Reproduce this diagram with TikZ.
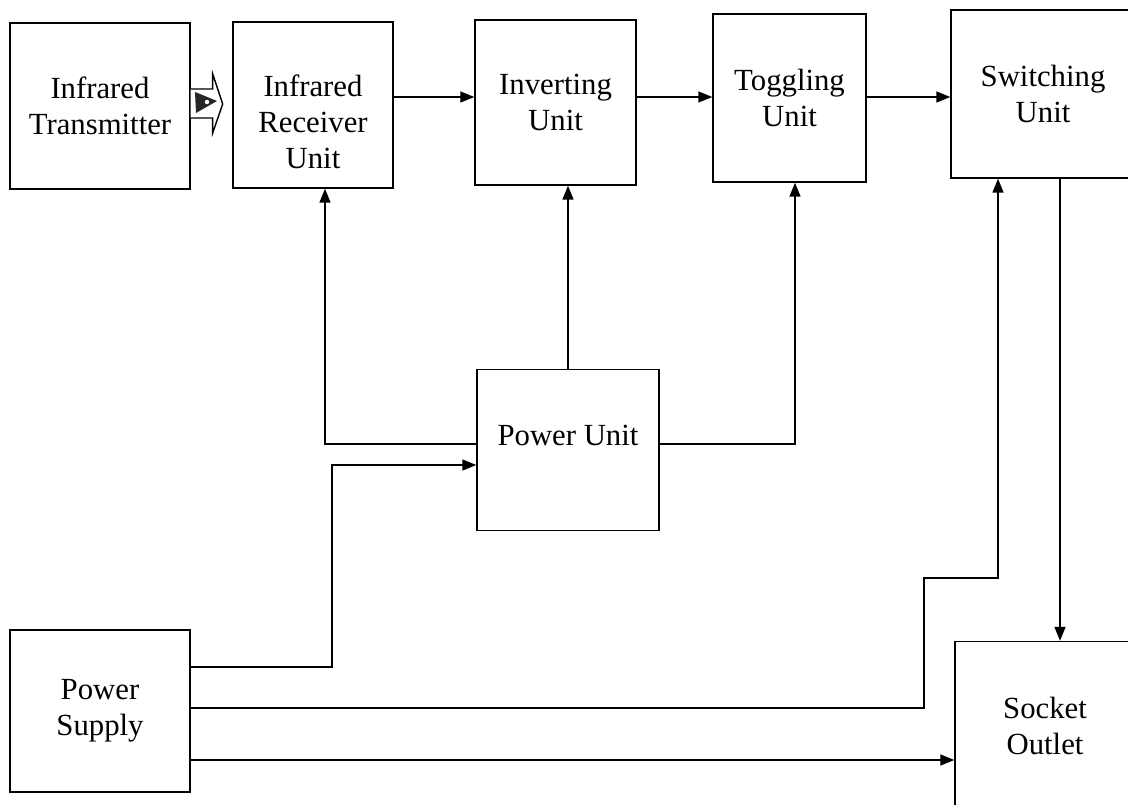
\documentclass[tikz,border=0pt]{standalone}
\usepackage{fontspec}
\setmainfont{Liberation Serif}
\usetikzlibrary{arrows.meta}

\begin{document}
\begin{tikzpicture}[x=0.02cm,y=-0.02cm,
    block/.style={draw, line width=0.8pt, align=center, inner sep=0pt,
      font=\fontsize{17.5}{20.5}\selectfont},
    lbl/.style={align=center, inner sep=0pt, font=\fontsize{17.5}{20.5}\selectfont},
    link/.style={line width=0.8pt, -{Triangle[length=0.28cm,width=0.22cm]}}]
  \useasboundingbox (0,0) rectangle (1128,804);
  % blocks
  \node [block, minimum width=3.6cm, minimum height=3.32cm] (trans) at (100,106)
    {Infrared\\Transmitter};
  \node [block, minimum width=3.2cm, minimum height=3.32cm,
    label={[lbl, yshift=-0.34cm]center:Infrared\\Receiver\\Unit}] (recv) at (313,105) {};
  \node [block, minimum width=3.22cm, minimum height=3.3cm] (inv) at (555.5,102.5)
    {Inverting\\Unit};
  \node [block, minimum width=3.06cm, minimum height=3.36cm] (tog) at (789.5,98)
    {Toggling\\Unit};
  \node [block, minimum width=3.68cm, minimum height=3.36cm] (sw) at (1043,94)
    {Switching\\Unit};
  \node [block, minimum width=3.64cm, minimum height=3.22cm, text depth=0.6cm] (pu) at (568,450)
    {Power Unit};
  \node [block, minimum width=3.6cm, minimum height=3.24cm] (ps) at (100,711)
    {Power\\Supply};
  \node [block, minimum width=3.6cm, minimum height=3.38cm] (so) at (1045,726)
    {Socket\\Outlet};
  % infrared beam
  \draw [line width=0.8pt, fill=white] (trans.east) ++(0,-17) -- ++(22,0) -- ++(0,-15)
    -- ++(10,30) -- ++(-10,29) -- ++(0,-15) -- ++(-22,0);
  \fill [black!85] (195,92) -- (217,101) -- (196,113) -- cycle;
  \fill [white] (207,102) circle [radius=2.2];
  % signal path
  \coordinate (row) at (0,97);
  \draw [link] (recv.east |- row) -- (inv.west |- row);
  \draw [link] (inv.east |- row) -- (tog.west |- row);
  \draw [link] (tog.east |- row) -- (sw.west |- row);
  \draw [link] ([xshift=0.34cm]sw.south) -- ([xshift=0.34cm]sw.south |- so.north);
  % power unit feeds
  \draw [link] (pu.north) -- (pu.north |- inv.south);
  \draw [link] (pu.west |- 0,444) -| ([xshift=0.24cm]recv.south);
  \draw [link] (pu.east |- 0,444) -| ([xshift=0.11cm]tog.south);
  % supply lines
  \draw [link] (ps.east |- 0,667) -- (332,667) |- (pu.west |- 0,465);
  \draw [link] (ps.east |- 0,708) -- (924,708) -- (924,578) -| ([xshift=-0.9cm]sw.south);
  \draw [link] (ps.east |- 0,760) -- (so.west |- 0,760);
\end{tikzpicture}
\end{document}
